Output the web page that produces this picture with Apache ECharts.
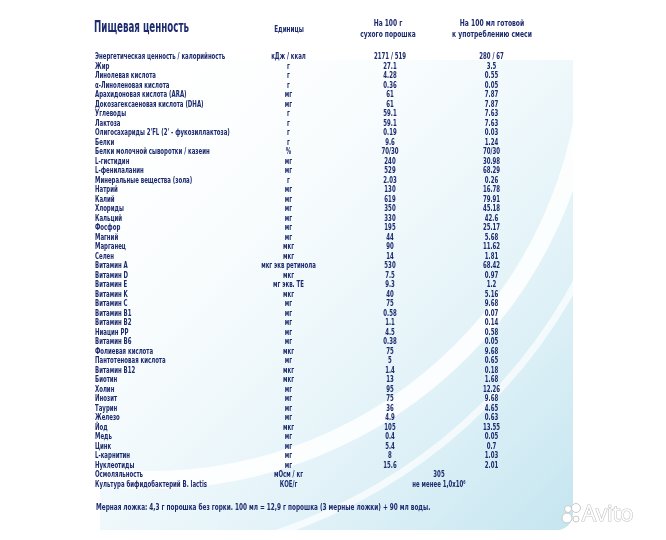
<!DOCTYPE html>
<html>
<head>
<meta charset="utf-8">
<script src="https://cdn.jsdelivr.net/npm/echarts@6/dist/echarts.min.js"></script>
<style>
	html, body { margin: 0; padding: 0; background: #fff; }
	#chart { width: 666px; height: 540px; }
</style>
</head>
<body>
<div id="chart"></div>
<script>
// строки таблицы
var names = [
	"Энергетическая ценность / калорийность", "Жир", "Линолевая кислота", "α-Линоленовая кислота",
	"Арахидоновая кислота (ARA)", "Докозагексаеновая кислота (DHA)", "Углеводы", "Лактоза",
	"Олигосахариды 2'FL (2' - фукозиллактоза)", "Белки", "Белки молочной сыворотки / казеин",
	"L-гистидин", "L-фенилаланин", "Минеральные вещества (зола)", "Натрий", "Калий", "Хлориды",
	"Кальций", "Фосфор", "Магний", "Марганец", "Селен", "Витамин А", "Витамин D", "Витамин E",
	"Витамин K", "Витамин C", "Витамин B1", "Витамин B2", "Ниацин PP", "Витамин B6",
	"Фолиевая кислота", "Пантотеновая кислота", "Витамин B12", "Биотин", "Холин", "Инозит",
	"Таурин", "Железо", "Йод", "Медь", "Цинк", "L-карнитин", "Нуклеотиды", "Осмоляльность",
	"Культура бифидобактерий B. lactis"
];
var units = [
	"кДж / ккал", "г", "г", "г", "мг", "мг", "г", "г", "г", "г", "%", "мг", "мг", "г", "мг", "мг", "мг",
	"мг", "мг", "мг", "мкг", "мкг", "мкг экв ретинола", "мкг", "мг экв. ТЕ", "мкг", "мг", "мг", "мг",
	"мг", "мг", "мкг", "мг", "мкг", "мкг", "мг", "мг", "мг", "мг", "мкг", "мг", "мг", "мг", "мг",
	"мОсм / кг", "КОЕ/г"
];
// на 100 г сухого порошка
var dryValues = [
	"2171 / 519", "27.1", "4.28", "0.36", "61", "61", "59.1", "59.1", "0.19", "9.6", "70/30", "240",
	"529", "2.03", "130", "619", "350", "330", "195", "44", "90", "14", "530", "7.5", "9.3", "40", "75",
	"0.58", "1.1", "4.5", "0.38", "75", "5", "1.4", "13", "95", "75", "36", "4.9", "105", "0.4", "5.4",
	"8", "15.6", "", ""
];
// на 100 мл готовой смеси
var readyValues = [
	"280 / 67", "3.5", "0.55", "0.05", "7.87", "7.87", "7.63", "7.63", "0.03", "1.24", "70/30", "30.98",
	"68.29", "0.26", "16.78", "79.91", "45.18", "42.6", "25.17", "5.68", "11.62", "1.81", "68.42", "0.97",
	"1.2", "5.16", "9.68", "0.07", "0.14", "0.58", "0.05", "9.68", "0.65", "0.18", "1.68", "12.26", "9.68",
	"4.65", "0.63", "13.55", "0.05", "0.7", "1.03", "2.01", "", ""
];
// общие значения (по центру между колонками)
var sharedValues = { 44: "305", 45: "не менее 1,0x10⁶" };
var columns = ["name", "unit", "dry", "ready"];
var footerText = "Мерная ложка: 4,3 г порошка без горки. 100 мл = 12,9 г порошка (3 мерные ложки) + 90 мл воды.";

var navy = "#1c2b6e";
var font = "'DejaVu Sans', sans-serif";

function cells(col, list) {
	var out = [];
	list.forEach(function(v, i) {
		if (v !== "") out.push([col, i, v]);
	});
	return out;
}

// узкий текст: custom series, позиция через api.coord
function textSeries(data, align, dx) {
	return {
		type: "custom",
		data: data,
		silent: true,
		renderItem: function(params, api) {
			var row = data[params.dataIndex];
			var pt = api.coord([row[0], row[1]]);
			return {
				type: "text",
				x: pt[0] + (dx || 0),
				y: pt[1],
				scaleX: 0.57,
				style: {
					text: row[2],
					fill: navy,
					font: "bold 9.5px " + font,
					textAlign: align,
					textVerticalAlign: "middle",
				},
			};
		},
	};
}

var shared = [];
Object.keys(sharedValues).forEach(function(k) {
	shared.push([2, Number(k), sharedValues[k]]);
});

function headText(x, y, text, size, sx, align) {
	return {
		type: "text", x: x, y: y, scaleX: sx, silent: true,
		style: {
			text: text, fill: navy, fontSize: size, lineHeight: size + 2, fontWeight: "bold",
			fontFamily: font, align: align || "center", verticalAlign: "middle",
		},
	};
}

var chart = echarts.init(document.getElementById("chart"), null, { renderer: "canvas" });
chart.setOption({
	animation: false,
	backgroundColor: "#ffffff",
	grid: { left: 136.25, right: 123.75, top: 52.25, bottom: 50.75 },
	xAxis: {
		type: "category",
		data: columns,
		show: false,
	},
	yAxis: {
		type: "category",
		data: names,
		inverse: true,
		show: false,
	},
	graphic: [
		// голубая подложка
		{
			type: "rect", z: -10, silent: true,
			shape: { x: 100, y: 60, width: 473, height: 470, r: [0, 0, 16, 0] },
			style: {
				fill: new echarts.graphic.LinearGradient(0, 0, 1, 1, [
					{ offset: 0, color: "rgba(255,255,255,0)" },
					{ offset: 0.5, color: "rgba(225,242,248,0.55)" },
					{ offset: 1, color: "rgba(196,229,240,1)" },
				]),
			},
		},
		{
			type: "circle", z: -9, silent: true,
			shape: { cx: 150, cy: 40, r: 440 },
			style: { fill: "none", stroke: "rgba(255,255,255,0.85)", lineWidth: 18 },
		},
		{
			type: "circle", z: -9, silent: true,
			shape: { cx: 110, cy: 30, r: 530 },
			style: { fill: "none", stroke: "rgba(255,255,255,0.7)", lineWidth: 7 },
		},
		{
			type: "rect", z: -8, silent: true,
			shape: { x: 573, y: 0, width: 93, height: 540 },
			style: { fill: "#ffffff" },
		},
		// заголовки
		headText(94, 28, "Пищевая ценность", 15, 0.58, "left"),
		headText(289, 30, "Единицы", 9, 0.63),
		headText(388, 29, "На 100 г\nсухого порошка", 9, 0.66),
		headText(492, 29, "На 100 мл готовой\nк употреблению смеси", 9, 0.67),
		headText(96, 508, footerText, 9, 0.64, "left"),
		// водяной знак
		{
			type: "group", x: 562, y: 504, silent: true,
			children: [
				{ type: "circle", shape: { cx: 6, cy: 5, r: 3.5 }, style: { fill: "#fff", stroke: "#c9c9c9", lineWidth: 1 } },
				{ type: "circle", shape: { cx: 14, cy: 4, r: 4.5 }, style: { fill: "#fff", stroke: "#c9c9c9", lineWidth: 1 } },
				{ type: "circle", shape: { cx: 5, cy: 14, r: 5 }, style: { fill: "#fff", stroke: "#c9c9c9", lineWidth: 1 } },
				{ type: "circle", shape: { cx: 14, cy: 15, r: 3 }, style: { fill: "#fff", stroke: "#c9c9c9", lineWidth: 1 } },
				{
					type: "text", x: 20, y: 11,
					style: { text: "Avito", fill: "#ffffff", stroke: "#c4c4c4", lineWidth: 1.2, fontSize: 22, fontFamily: "'Open Sans', sans-serif", verticalAlign: "middle" },
				},
			],
		},
	],
	series: [
		textSeries(cells(0, names), "left", -92),
		textSeries(cells(1, units), "center"),
		textSeries(cells(2, dryValues), "center"),
		textSeries(cells(3, readyValues), "center"),
		textSeries(shared, "center", 49),
	],
});
</script>
</body>
</html>
